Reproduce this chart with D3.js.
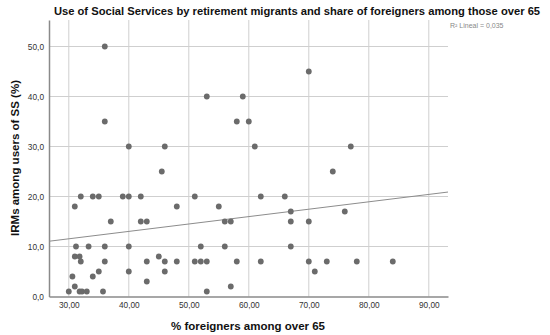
<!DOCTYPE html>
<html>
<head>
<meta charset="utf-8">
<script src="https://cdn.jsdelivr.net/npm/d3@7"></script>
<style>
  body { margin: 0; background: #fff; }
  text { font-family: "Liberation Sans", Arial, sans-serif; }
</style>
</head>
<body>
<div id="chart"></div>
<script>
// % foreigners among over 65 (x) and IRMs among users of SS in % (y)
var foreigners = [36, 36, 40, 46, 45.5, 32, 34, 35, 39, 40, 42, 51, 31, 48, 37, 42, 43,
  31.2, 33.3, 36, 40, 52, 31, 31.8, 45, 32, 36, 43, 46, 48, 51, 52, 35, 40, 46,
  30.6, 34, 43, 31, 30, 31.8, 32.2, 33, 35.7,
  70, 53, 59, 58, 60, 61, 77, 74, 62, 66, 55, 67, 76, 56, 57, 67, 70, 56, 67,
  53, 58, 62, 70, 73, 78, 71, 57, 53, 84];
var irms = [50, 35, 30, 30, 25, 20, 20, 20, 20, 20, 20, 20, 18, 18, 15, 15, 15,
  10, 10, 10, 10, 10, 8, 8, 8, 7, 7, 7, 7, 7, 7, 7, 5, 5, 5,
  4, 4, 3, 2, 1, 1, 1, 1, 1,
  45, 40, 40, 35, 35, 30, 30, 25, 20, 20, 18, 17, 17, 15, 15, 15, 15, 10, 10,
  7, 7, 7, 7, 7, 7, 5, 2, 1, 7];
var xTicks = [30, 40, 50, 60, 70, 80, 90];
var yTicks = [0, 10, 20, 30, 40, 50];
// fit line
var fitIntercept = 7.1;
var fitSlope = 0.148;

var data = foreigners.map(function(d, i) { return { x: d, y: irms[i] }; });

var width = 550, height = 335;
var margin = { left: 49, right: 448, top: 20, bottom: 296.5 };

var locale = d3.formatLocale({ decimal: ",", thousands: ".", grouping: [3], currency: ["", ""] });
var fmtX = locale.format(".2f"), fmtY = locale.format(".1f");

var x = d3.scaleLinear().domain([26.7, 93.2]).range([margin.left, margin.right]);
var y = d3.scaleLinear().domain([0, 55.3]).range([margin.bottom, margin.top]);

var svg = d3.select('#chart').append('svg')
    .attr('width', width).attr('height', height);

// grid
svg.append('g').selectAll('line').data(yTicks.slice(1)).enter().append('line')
    .attr('x1', margin.left).attr('x2', margin.right)
    .attr('y1', function(d) { return y(d); }).attr('y2', function(d) { return y(d); })
    .attr('stroke', '#cfcfcf').attr('stroke-width', 1);
svg.append('g').selectAll('line').data(xTicks).enter().append('line')
    .attr('x1', function(d) { return x(d); }).attr('x2', function(d) { return x(d); })
    .attr('y1', margin.top).attr('y2', margin.bottom)
    .attr('stroke', '#cfcfcf').attr('stroke-width', 1);

// axes
var xAxis = d3.axisBottom(x).tickValues(xTicks).tickFormat(fmtX).tickSize(0).tickPadding(6);
var yAxis = d3.axisLeft(y).tickValues(yTicks).tickFormat(fmtY).tickSize(0).tickPadding(5);

var gx = svg.append('g').attr('transform', 'translate(0,' + margin.bottom + ')').call(xAxis);
var gy = svg.append('g').attr('transform', 'translate(' + margin.left + ',0)').call(yAxis);
[gx, gy].forEach(function(g) {
  g.select('.domain').attr('stroke', '#8a8a8a').attr('stroke-width', 1.5);
  g.selectAll('text').attr('fill', '#333').style('font-size', '8.3px')
      .style('font-family', '"Liberation Sans", Arial, sans-serif');
});

// fit line
svg.append('line')
    .attr('x1', x(26.7)).attr('y1', y(fitIntercept + fitSlope * 26.7))
    .attr('x2', x(93.2)).attr('y2', y(fitIntercept + fitSlope * 93.2))
    .attr('stroke', '#8c8c8c').attr('stroke-width', 1);

// points
svg.append('g').selectAll('circle').data(data).enter().append('circle')
    .attr('cx', function(d) { return x(d.x); })
    .attr('cy', function(d) { return y(d.y); })
    .attr('r', 2.9)
    .attr('fill', '#6b6b6b');

// texts
svg.append('text').attr('x', 297).attr('y', 15).attr('text-anchor', 'middle')
    .style('font-size', '11.2px').style('font-weight', 'bold').attr('fill', '#111')
    .text('Use of Social Services by retirement migrants and share of foreigners among those over 65');
svg.append('text').attr('x', 450).attr('y', 28)
    .style('font-size', '7px').attr('fill', '#888')
    .text('R\u00b2 Lineal = 0,035');
svg.append('text').attr('x', 248).attr('y', 330).attr('text-anchor', 'middle')
    .style('font-size', '11.5px').style('font-weight', 'bold').attr('fill', '#111')
    .text('% foreigners among over 65');
svg.append('text').attr('transform', 'translate(19,158) rotate(-90)').attr('text-anchor', 'middle')
    .style('font-size', '11.5px').style('font-weight', 'bold').attr('fill', '#111')
    .text('IRMs among users of SS (%)');
</script>
</body>
</html>
